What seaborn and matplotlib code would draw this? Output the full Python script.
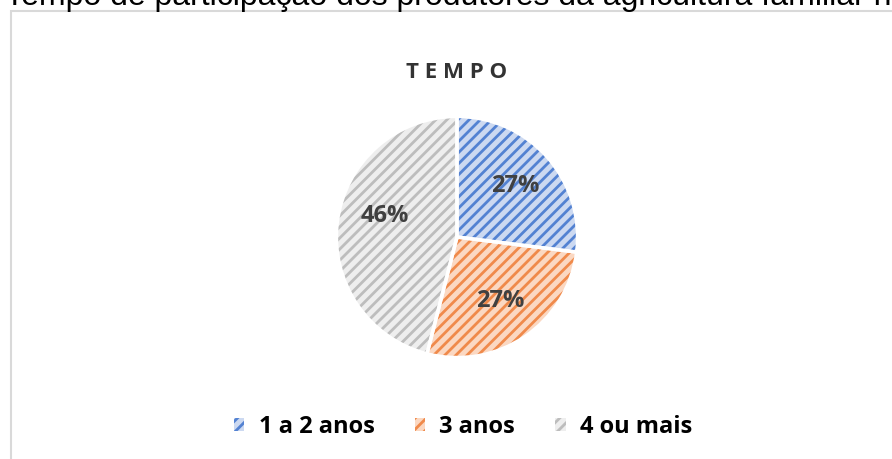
import matplotlib
matplotlib.use("Agg")
import matplotlib.pyplot as plt
from matplotlib.patches import Patch, Rectangle
import seaborn as sns

# ── Data ─────────────────────────────────────────────────────────────────────
categories = ["1 a 2 anos", "3 anos", "4 ou mais"]
shares     = [27, 27, 46]
pct_labels = ["27%", "27%", "46%"]

FILL  = ["#CCD9F1", "#FBD8C2", "#EEEEEE"]
HATCH = ["#5382D2", "#F08A4B", "#BDBDBD"]

sns.set_theme(style="white")
plt.rcParams["font.family"] = ["Open Sans", "DejaVu Sans"]
plt.rcParams["hatch.linewidth"] = 2.0

W, H = 892, 459
fig = plt.figure(figsize=(W / 100, H / 100), dpi=100, facecolor="white")

# chart frame (extends past right/bottom edges)
fig.patches.append(Rectangle((11 / W, -0.1), 1.2, 1 - 11 / H + 0.1,
                             transform=fig.transFigure, fill=False,
                             edgecolor="#D9D9D9", linewidth=1.5))

# clipped caption above the chart
fig.text(5 / W, 1 - 5 / H,
         "Tempo de participação dos produtores da agricultura familiar no programa",
         family=["Liberation Sans", "DejaVu Sans"], fontsize=23,
         color="black", va="baseline", ha="left")

# pie axes: centre (457, 237), radius 123 px
cx, cy, r = 457, 237, 123
ax = fig.add_axes([(cx - r) / W, (H - cy - r) / H, 2 * r / W, 2 * r / H])

# base fill
ax.pie(shares, colors=FILL, startangle=90, counterclock=False, radius=1,
       wedgeprops=dict(linewidth=0))
# hatch overlay
wedges, _ = ax.pie(shares, colors=["none"] * 3, startangle=90,
                   counterclock=False, radius=1,
                   wedgeprops=dict(linewidth=0))
for w, hc in zip(wedges, HATCH):
    w.set_hatch("///")
    w.set_edgecolor(hc)
    w.set_facecolor("none")
# white separators + labels
wedges, texts = ax.pie(shares, colors=["none"] * 3, startangle=90,
                       counterclock=False, radius=1,
                       labels=pct_labels, labeldistance=0.64,
                       wedgeprops=dict(linewidth=2.5, edgecolor="white",
                                       fill=False),
                       textprops=dict(fontsize=17, fontweight="bold",
                                      color="#404040", ha="center",
                                      va="center"))
texts[2].set_position((texts[2].get_position()[0] + 0.04,
                       texts[2].get_position()[1] + 0.09))
ax.set_xlim(-1.02, 1.02)
ax.set_ylim(-1.02, 1.02)
ax.axis("off")

# title
fig.text(cx / W, 1 - 73 / H, " ".join("TEMPO"), ha="center", va="center",
         fontsize=16, fontweight="bold", color="#333333")

# legend
handles = [Patch(facecolor=f, edgecolor=h, hatch="///", linewidth=0)
           for f, h in zip(FILL, HATCH)]
fig.legend(handles, categories, loc="center", bbox_to_anchor=(463 / W, 32 / H),
           ncol=3, frameon=False, handlelength=0.45, handleheight=0.45,
           handletextpad=0.6, columnspacing=1.7, labelcolor="black",
           prop=dict(family="Open Sans", weight="bold", size=17))

fig.savefig("out.png", dpi=100, facecolor="white")
